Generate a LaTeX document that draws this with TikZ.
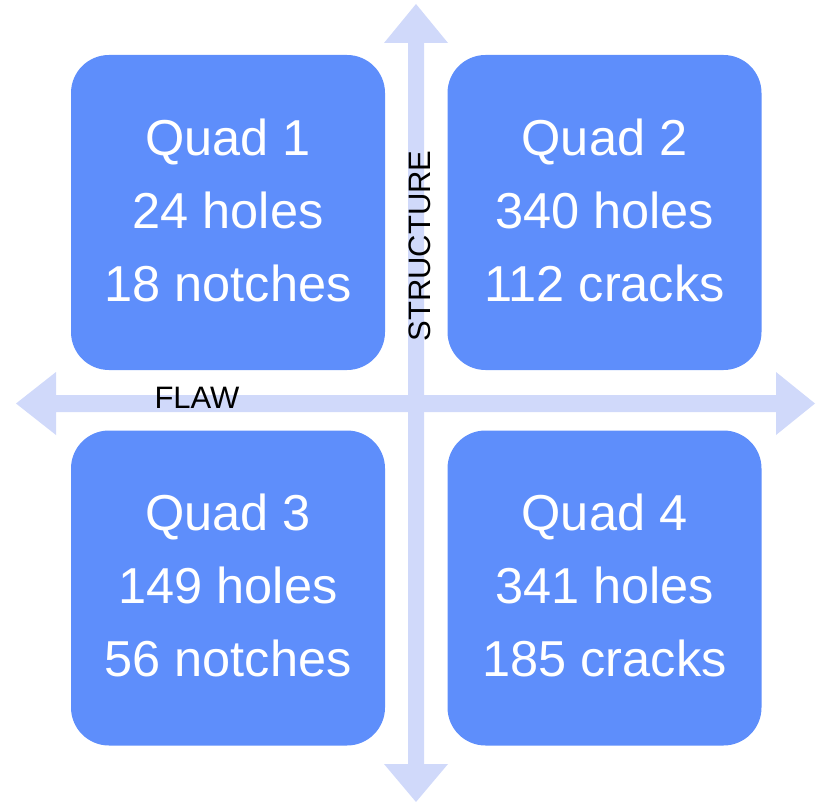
\documentclass[tikz,border=0pt]{standalone}
\usepackage{fontspec}
\setmainfont{Liberation Sans}
\definecolor{quadblue}{HTML}{5E8EFB}
\definecolor{axisblue}{HTML}{D0D9FA}
\begin{document}
\begin{tikzpicture}[x=1pt,y=-1pt,
  quad/.style={fill=quadblue, draw=none, rounded corners=38pt,
    minimum width=314pt, minimum height=315pt, inner sep=0pt},
  quadtext/.style={text=white, align=center,
    font=\fontsize{50.5}{73}\selectfont},
  axislabel/.style={text=black, inner sep=0pt,
    font=\fontsize{31}{36}\selectfont},
  axisfill/.style={fill=axisblue, draw=none}]
\useasboundingbox (0,0) rectangle (816,802);

% vertical axis (STRUCTURE), double-headed
\fill[axisfill] (416,4) -- (448,43) -- (424,43) -- (424,764) -- (448,764)
  -- (416,802) -- (384,764) -- (408,764) -- (408,43) -- (384,43) -- cycle;
% horizontal axis (FLAW), double-headed
\fill[axisfill] (16,403.5) -- (56,372) -- (56,395) -- (776,395) -- (776,372)
  -- (815,403.5) -- (776,435) -- (776,412) -- (56,412) -- (56,435) -- cycle;

% quadrants
\node[quad] (q1) at (228,212.5) {};
\node[quad] (q2) at (604.5,212.5) {};
\node[quad] (q3) at (228,588) {};
\node[quad] (q4) at (604.5,588) {};

\node[quadtext] (t1) at ([yshift=2.5pt]q1.center) {Quad 1\\24 holes\\18 notches};
\node[quadtext] (t2) at ([yshift=2.5pt]q2.center) {Quad 2\\340 holes\\112 cracks};
\node[quadtext] (t3) at ([yshift=2.5pt]q3.center) {Quad 3\\149 holes\\56 notches};
\node[quadtext] (t4) at ([yshift=2.5pt]q4.center) {Quad 4\\341 holes\\185 cracks};

% axis labels
\node[axislabel] (flaw) at (197,398) {FLAW};
\node[axislabel, rotate=90] (structure) at (420,246) {STRUCTURE};
\end{tikzpicture}
\end{document}
